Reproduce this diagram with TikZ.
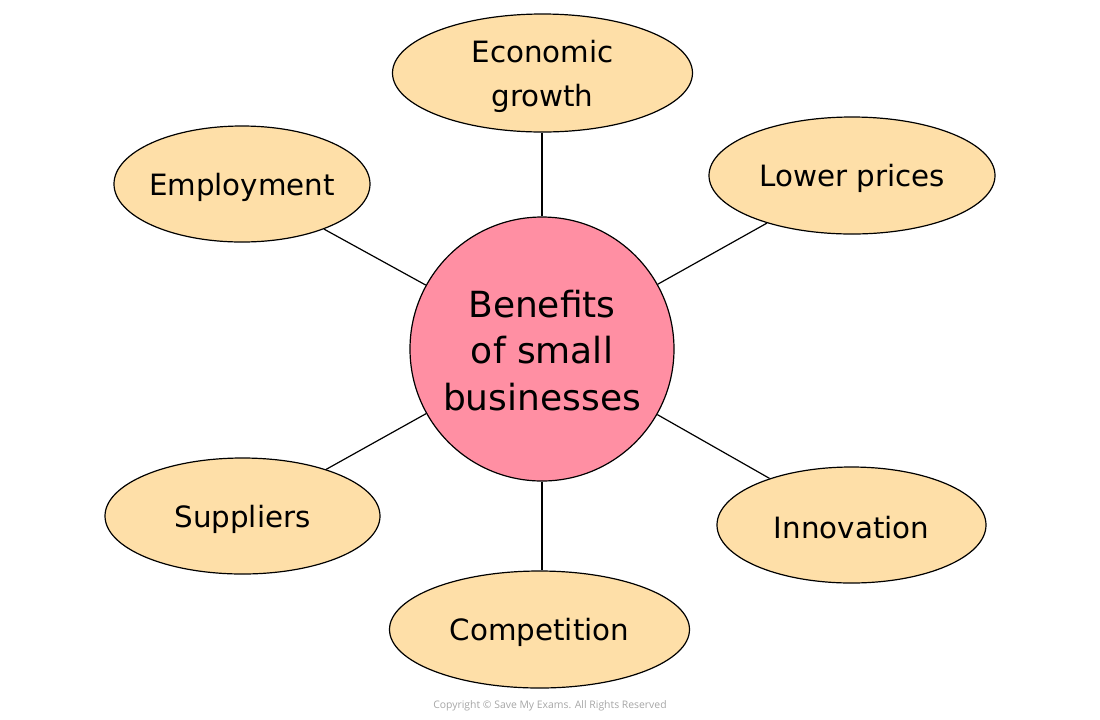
\documentclass[tikz,border=0pt]{standalone}
\usepackage{fontspec}
\setmainfont{DejaVu Sans}
\newfontfamily\copyfont{Open Sans}
\usetikzlibrary{shapes.geometric}
\definecolor{ellfill}{HTML}{FEDFA8}
\definecolor{hubfill}{HTML}{FF8FA3}
\definecolor{copygray}{HTML}{A6A6A6}
\begin{document}
\begin{tikzpicture}[x=0.75pt,y=-0.75pt,
  leaf/.style={ellipse,draw=black,line width=0.9pt,fill=ellfill,inner sep=0pt},
  lbl/.style={font=\fontsize{22}{33}\selectfont,align=center,inner sep=0pt,yshift=-2.2pt},
  hub/.style={circle,draw=black,line width=0.9pt,fill=hubfill,inner sep=0pt,
    minimum size=198pt},
  hublbl/.style={font=\fontsize{27}{35}\selectfont,align=center,inner sep=0pt,yshift=-1pt},
  link/.style={draw=black,line width=0.9pt}]
\useasboundingbox (0,0) rectangle (1100,719);
\node[hub,label={[hublbl]center:Benefits\\of small\\businesses}] (hub) at (542,349) {};
\node[leaf,minimum width=225pt,minimum height=88.5pt,label={[lbl]center:Economic\\growth}] (econ) at (542.5,73) {};
\node[leaf,minimum width=192pt,minimum height=87pt,label={[lbl]center:Employment}] (emp) at (242,184) {};
\node[leaf,minimum width=214.5pt,minimum height=87.75pt,label={[lbl]center:Lower prices}] (low) at (852,175.5) {};
\node[leaf,minimum width=206.25pt,minimum height=87pt,label={[lbl]center:Suppliers}] (sup) at (242.5,516) {};
\node[leaf,minimum width=201.75pt,minimum height=87pt,label={[lbl]center:Innovation}] (inn) at (851.5,525) {};
\node[leaf,minimum width=225pt,minimum height=87.75pt,label={[lbl]center:Competition}] (comp) at (539.5,629.5) {};
\path[link] (hub.north) -- (hub.north |- econ.south);
\path[link] (hub.south) -- (hub.south |- comp.north);
\path[link] (hub) -- (emp);
\path[link] (hub) -- (low);
\path[link] (hub) -- (sup);
\path[link] (hub) -- (inn);
\node[text=copygray,font=\copyfont\fontsize{7.8}{9}\selectfont] (copy) at (550,706) {Copyright © Save My Exams. All Rights Reserved};
\end{tikzpicture}
\end{document}
